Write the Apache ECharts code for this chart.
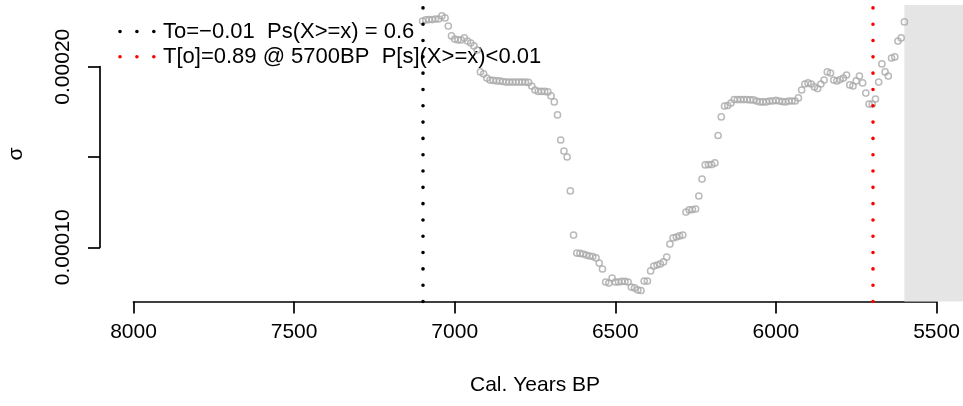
<!DOCTYPE html>
<html>
<head>
<meta charset="utf-8">
<script src="https://cdn.jsdelivr.net/npm/echarts@6/dist/echarts.min.js"></script>
<style>
  html, body { margin: 0; padding: 0; background: #ffffff; overflow: hidden; }
  #chart { width: 963px; height: 406px; }
</style>
</head>
<body>
<div id="chart"></div>
<script>
// Calendar years BP (10-year steps) and the estimated sigma at each step
const years = [
  7100, 7090, 7080, 7070, 7060, 7050, 7040, 7030, 7020, 7010,
  7000, 6990, 6980, 6970, 6960, 6950, 6940, 6930, 6920, 6910,
  6900, 6890, 6880, 6870, 6860, 6850, 6840, 6830, 6820, 6810,
  6800, 6790, 6780, 6770, 6760, 6750, 6740, 6730, 6720, 6710,
  6700, 6690, 6680, 6670, 6660, 6650, 6640, 6630, 6620, 6610,
  6600, 6590, 6580, 6570, 6560, 6550, 6540, 6530, 6520, 6510,
  6500, 6490, 6480, 6470, 6460, 6450, 6440, 6430, 6420, 6410,
  6400, 6390, 6380, 6370, 6360, 6350, 6340, 6330, 6320, 6310,
  6300, 6290, 6280, 6270, 6260, 6250, 6240, 6230, 6220, 6210,
  6200, 6190, 6180, 6170, 6160, 6150, 6140, 6130, 6120, 6110,
  6100, 6090, 6080, 6070, 6060, 6050, 6040, 6030, 6020, 6010,
  6000, 5990, 5980, 5970, 5960, 5950, 5940, 5930, 5920, 5910,
  5900, 5890, 5880, 5870, 5860, 5850, 5840, 5830, 5820, 5810,
  5800, 5790, 5780, 5770, 5760, 5750, 5740, 5730, 5720, 5710,
  5700, 5690, 5680, 5670, 5660, 5650, 5640, 5630, 5620, 5610,
  5600
];

const sigma = [
  0.0002253, 0.0002259, 0.0002261, 0.0002261, 0.0002264, 0.0002264, 0.0002281, 0.0002270, 0.0002225, 0.0002170,
  0.0002153, 0.0002148, 0.0002148, 0.0002159, 0.0002142, 0.0002131, 0.0002115, 0.0002092, 0.0001971, 0.0001960,
  0.0001937, 0.0001926, 0.0001924, 0.0001921, 0.0001921, 0.0001918, 0.0001915, 0.0001915, 0.0001915, 0.0001915,
  0.0001915, 0.0001915, 0.0001915, 0.0001913, 0.0001893, 0.0001871, 0.0001863, 0.0001863, 0.0001863, 0.0001860,
  0.0001838, 0.0001805, 0.0001733, 0.0001594, 0.0001533, 0.0001500, 0.0001312, 0.0001068, 0.0000968, 0.0000966,
  0.0000963, 0.0000957, 0.0000952, 0.0000949, 0.0000941, 0.0000913, 0.0000880, 0.0000808, 0.0000802, 0.0000830,
  0.0000808, 0.0000808, 0.0000811, 0.0000811, 0.0000808, 0.0000780, 0.0000775, 0.0000764, 0.0000761, 0.0000813,
  0.0000813, 0.0000869, 0.0000896, 0.0000902, 0.0000908, 0.0000919, 0.0000946, 0.0001018, 0.0001052, 0.0001057,
  0.0001063, 0.0001068, 0.0001195, 0.0001207, 0.0001209, 0.0001212, 0.0001284, 0.0001378, 0.0001456, 0.0001458,
  0.0001458, 0.0001467, 0.0001619, 0.0001722, 0.0001782, 0.0001785, 0.0001799, 0.0001818, 0.0001818, 0.0001818,
  0.0001818, 0.0001818, 0.0001816, 0.0001816, 0.0001810, 0.0001805, 0.0001805, 0.0001805, 0.0001810, 0.0001810,
  0.0001813, 0.0001810, 0.0001807, 0.0001805, 0.0001810, 0.0001810, 0.0001810, 0.0001827, 0.0001871, 0.0001904,
  0.0001910, 0.0001904, 0.0001888, 0.0001879, 0.0001904, 0.0001926, 0.0001971, 0.0001965, 0.0001926, 0.0001921,
  0.0001929, 0.0001937, 0.0001954, 0.0001899, 0.0001893, 0.0001921, 0.0001948, 0.0001910, 0.0001854, 0.0001793,
  0.0001793, 0.0001821, 0.0001915, 0.0002015, 0.0001971, 0.0001948, 0.0002048, 0.0002054, 0.0002142, 0.0002159,
  0.0002248
];

// Axis tick values
const xTicks = [8000, 7500, 7000, 6500, 6000, 5500];
const yTicks = [0.00010, 0.00015, 0.00020];
const yTickLabels = ['0.00010', '', '0.00020'];

// Reference years marked on the plot
const toYear = 7100;        // To marker
const peakYear = 5700;      // T[o] marker
const shadeFrom = 5600;     // start of the shaded (unsampled) window

const FONT = 'Liberation Sans, Arial, Helvetica, sans-serif';
const FS = 21;
const LEGEND_FS = 22;

const points = years.map((y, i) => [y, sigma[i]]);

const chart = echarts.init(document.getElementById('chart'), null, { renderer: 'canvas' });

const dotted = [0.01, 16.3];

chart.setOption({
  animation: false,
  backgroundColor: '#ffffff',
  grid: [
    // plotting region (runs off the right edge of the canvas)
    { left: 101.4, top: 4.9, right: 0, height: 296.6 },
    // bottom axis (drawn only over the tick range)
    { left: 133.5, top: 4.9, width: 803, height: 296.6 },
    // left axis (drawn only over the tick range)
    { left: 100, top: 66.7, width: 500, height: 180.6 }
  ],
  xAxis: [
    { gridIndex: 0, type: 'value', min: 5417.5, max: 8100, inverse: true, show: false },
    {
      gridIndex: 1, type: 'value', min: xTicks[xTicks.length - 1], max: xTicks[0], interval: 500, inverse: true,
      axisLine: { show: true, lineStyle: { color: '#000', width: 1.7 } },
      axisTick: { show: true, length: 12, lineStyle: { color: '#000', width: 1.7 } },
      axisLabel: { show: true, color: '#000', fontSize: FS, fontFamily: FONT, margin: 20,
        formatter: (v) => String(v) },
      splitLine: { show: false }
    },
    { gridIndex: 2, type: 'value', show: false }
  ],
  yAxis: [
    { gridIndex: 0, type: 'value', min: 0.00007, max: 0.0002342, show: false },
    { gridIndex: 1, type: 'value', show: false },
    {
      gridIndex: 2, type: 'value', min: yTicks[0], max: yTicks[yTicks.length - 1], interval: 0.00005,
      axisLine: { show: true, lineStyle: { color: '#000', width: 1.7 } },
      axisTick: { show: true, length: 12, lineStyle: { color: '#000', width: 1.7 } },
      axisLabel: {
        show: true, color: '#000', fontSize: FS, fontFamily: FONT, rotate: 90, margin: 26,
        formatter: (v) => {
          const i = yTicks.findIndex(t => Math.abs(t - v) < 1e-9);
          return i >= 0 ? yTickLabels[i] : '';
        }
      },
      splitLine: { show: false }
    }
  ],
  series: [
    {
      type: 'scatter',
      xAxisIndex: 0, yAxisIndex: 0,
      data: points,
      symbol: 'circle',
      symbolSize: 6.2,
      itemStyle: { color: 'rgba(0,0,0,0)', borderColor: '#a9a9a9', borderWidth: 1.5 },
      z: 3,
      markArea: {
        silent: true,
        itemStyle: { color: '#e5e5e5' },
        data: [[{ xAxis: shadeFrom }, { xAxis: 5400 }]],
        z: 1
      }
    },
    {
      type: 'line',
      xAxisIndex: 0, yAxisIndex: 0,
      data: [],
      z: 10,
      markLine: {
        silent: true,
        symbol: 'none',
        label: { show: false },
        data: [
          { xAxis: toYear, lineStyle: { color: '#000000', width: 3.6, type: dotted, cap: 'round' } },
          { xAxis: peakYear, lineStyle: { color: '#ff0000', width: 3.6, type: dotted, cap: 'round' } }
        ]
      }
    }
  ],
  graphic: [
    // legend samples
    { type: 'line', shape: { x1: 120, y1: 31.5, x2: 154, y2: 31.5 },
      style: { stroke: '#000000', lineWidth: 3.6, lineDash: [0.01, 16.9], lineCap: 'round' } },
    { type: 'line', shape: { x1: 120, y1: 56.7, x2: 154, y2: 56.7 },
      style: { stroke: '#ff0000', lineWidth: 3.6, lineDash: [0.01, 16.9], lineCap: 'round' } },
    { type: 'text', x: 163, y: 32,
      style: { text: 'To=\u22120.01  Ps(X>=x) = 0.6', fill: '#000', font: LEGEND_FS + 'px ' + FONT,
        textAlign: 'left', textVerticalAlign: 'middle' } },
    { type: 'text', x: 163, y: 56.7,
      style: { text: 'T[o]=0.89 @ ' + peakYear + 'BP  P[s](X>=x)<0.01', fill: '#000', font: LEGEND_FS + 'px ' + FONT,
        textAlign: 'left', textVerticalAlign: 'middle' } },
    // axis titles
    { type: 'text', x: 535, y: 385,
      style: { text: 'Cal. Years BP', fill: '#000', font: FS + 'px ' + FONT, textAlign: 'center', textVerticalAlign: 'middle' } },
    { type: 'text', x: 16, y: 154, rotation: Math.PI / 2,
      style: { text: '\u03c3', fill: '#000', font: FS + 'px ' + FONT, textAlign: 'center', textVerticalAlign: 'middle' } }
  ]
});
</script>
</body>
</html>
